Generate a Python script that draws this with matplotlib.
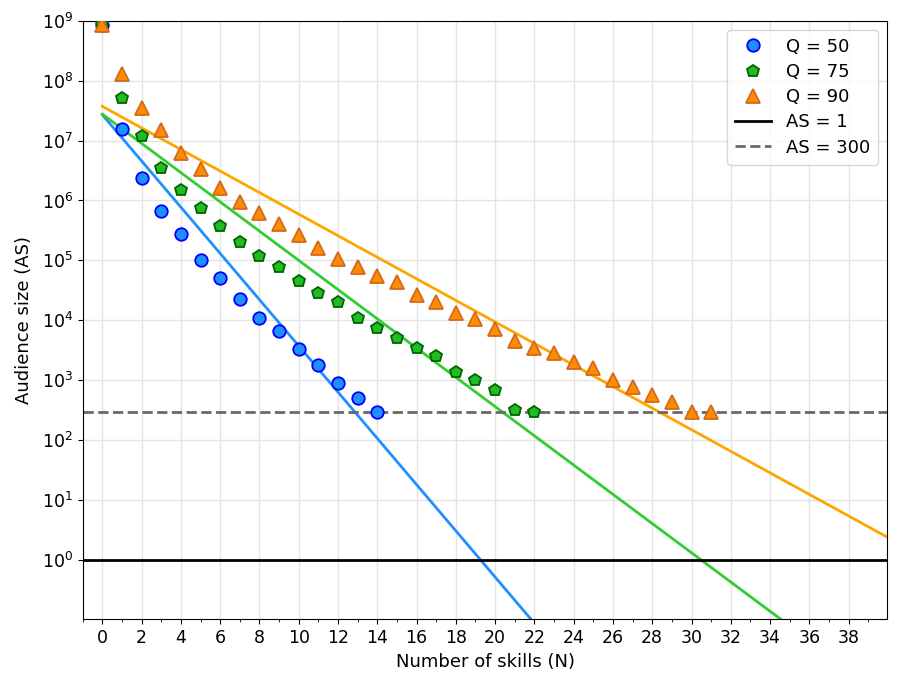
import matplotlib
matplotlib.use("Agg")
import matplotlib.pyplot as plt
from matplotlib.ticker import MultipleLocator, FixedLocator, NullLocator
import numpy as np

# Audience size vs number of skills
n_q50 = list(range(0, 15))
as_q50 = [8.5e8, 1.55e7, 2.4e6, 6.6e5, 2.75e5, 1.0e5, 5.0e4, 2.3e4, 1.1e4,
          6.6e3, 3.3e3, 1.8e3, 890, 500, 300]

n_q75 = list(range(0, 23))
as_q75 = [8.9e8, 5.1e7, 1.2e7, 3.5e6, 1.5e6, 7.5e5, 3.8e5, 2.0e5, 1.2e5,
          7.9e4, 4.6e4, 2.9e4, 2.0e4, 1.1e4, 7.6e3, 5.1e3, 3.5e3, 2.5e3,
          1.4e3, 1.0e3, 680, 316, 300]

n_q90 = list(range(0, 32))
as_q90 = [8.3e8, 1.3e8, 3.5e7, 1.5e7, 6.2e6, 3.3e6, 1.6e6, 9.6e5, 6.1e5,
          4.1e5, 2.7e5, 1.6e5, 1.05e5, 7.8e4, 5.5e4, 4.4e4, 2.7e4, 2.0e4,
          1.35e4, 1.05e4, 7.1e3, 4.6e3, 3.5e3, 2.9e3, 2.0e3, 1.6e3, 1.0e3,
          760, 560, 430, 300, 300]

# exponential fits: log10(AS) = a + b*N
fit_a = [7.43, 7.44, 7.57]
fit_b = [-0.3856, -0.2439, -0.1798]

y_ticks = [10.0 ** k for k in range(0, 10)]

fig = plt.figure(figsize=(9.01, 6.88), dpi=100)
ax = fig.add_axes([0.0918, 0.0998, 0.8930, 0.8702])

n_fit = np.linspace(0, 41, 200)
ax.plot(n_fit, 10 ** (fit_a[0] + fit_b[0] * n_fit), color="dodgerblue", lw=2, zorder=2)
ax.plot(n_fit, 10 ** (fit_a[1] + fit_b[1] * n_fit), color="limegreen", lw=2, zorder=2)
ax.plot(n_fit, 10 ** (fit_a[2] + fit_b[2] * n_fit), color="orange", lw=2, zorder=2)

ax.plot(n_q50, as_q50, "o", ms=9, mfc="dodgerblue", mec="blue", mew=1.3,
        label="Q = 50", zorder=3)
ax.plot(n_q75, as_q75, "p", ms=9, mfc="#22bb22", mec="darkgreen", mew=1.3,
        label="Q = 75", zorder=3)
ax.plot(n_q90, as_q90, "^", ms=10, mfc="darkorange", mec="#d2691e", mew=1.3,
        label="Q = 90", zorder=3)

ax.axhline(1, color="black", lw=2, label="AS = 1", zorder=2)
ax.axhline(300, color="dimgray", lw=2, ls="--", label="AS = 300", zorder=2)

ax.set_yscale("log")
ax.set_xlim(-1, 39.97)
ax.set_ylim(0.103, 1e9)
ax.xaxis.set_major_locator(MultipleLocator(2))
ax.xaxis.set_minor_locator(MultipleLocator(1))
ax.yaxis.set_major_locator(FixedLocator(y_ticks))
ax.yaxis.set_minor_locator(NullLocator())
ax.grid(True, which="major", color="#e4e4e4", lw=1)
ax.set_axisbelow(True)
ax.tick_params(labelsize=12.5)

ax.set_xlabel("Number of skills (N)", fontsize=13)
ax.set_ylabel("Audience size (AS)", fontsize=13, labelpad=6)

ax.legend(loc="upper right", fontsize=13, borderpad=0.45, labelspacing=0.4,
          handlelength=2.0)

fig.savefig("out.png", dpi=100)
